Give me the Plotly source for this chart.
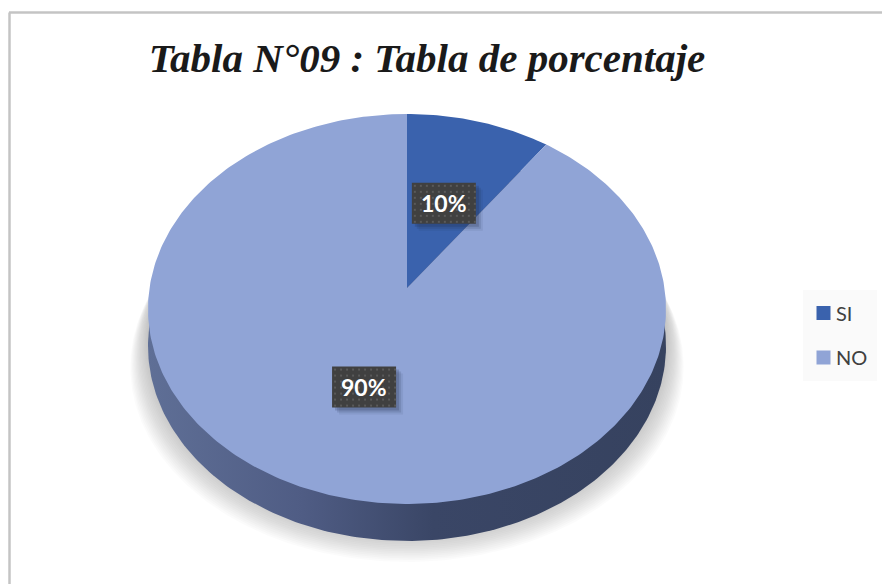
import numpy as np
import plotly.graph_objects as go

categories = ["SI", "NO"]
values = [10, 90]
colors = ["#3a62ad", "#90a4d6"]
title_text = "Tabla N°09 : Tabla de porcentaje"

W, H = 882, 584
CX, CY, A, B, K = 407, 288, 257.5, 192.7, 0.1077
DEPTH = 37


def project(u, v):
    w = 1 + K * np.asarray(v)
    return CX + A * np.asarray(u) / w, CY - B * np.asarray(v) / w


def rim(a0=0.0, a1=2 * np.pi, n=361):
    t = np.linspace(a0, a1, n)
    return project(np.sin(t), np.cos(t))


def poly(x, y, color, **kw):
    fig.add_trace(go.Scatter(x=x, y=y, mode="lines", fill="toself", line_width=0, fillcolor=color,
                             showlegend=False, hoverinfo="skip", **kw))


fig = go.Figure()

# soft shadow
for i in range(18):
    f = i / 17
    x, y = rim()
    poly(CX + (x - CX) * (1.068 - 0.07 * f), y + 58 - 30 * f, "rgba(120,120,120,0.032)")

# side wall
x, y = rim()
fig.add_trace(go.Scatter(x=x, y=y + DEPTH, mode="lines", fill="toself", line_width=0,
                         fillgradient=dict(type="horizontal",
                                           colorscale=[[0, "#5f6f96"], [0.3, "#4f5c84"], [0.55, "#3a4666"], [1, "#36425f"]]),
                         showlegend=False, hoverinfo="skip"))

# slices, clockwise from 12 o'clock
total = sum(values)
start = 0.0
labels = []
for name, val, col in zip(categories, values, colors):
    end = start + 2 * np.pi * val / total
    x, y = rim(start, end, max(3, int(val * 4)))
    poly(np.r_[CX, x, CX], np.r_[CY, y, CY], col)
    mid = (start + end) / 2
    lx, ly = project(0.5 * np.sin(mid), 0.5 * np.cos(mid))
    labels.append((float(lx) - 1, float(ly) + 2, f"{round(100 * val / total)}%"))
    start = end

# data labels: shadow, box, dot texture, text
for lx, ly, text in labels:
    x0, x1, y0, y1 = lx - 32, lx + 32, ly - 20, ly + 21
    for d, op in ((7, 0.08), (5, 0.14), (3, 0.2)):
        poly([x0 + d, x1 + d, x1 + d, x0 + d], [y0 + d, y0 + d, y1 + d, y1 + d], f"rgba(30,40,70,{op})")
    poly([x0, x1, x1, x0], [y0, y0, y1, y1], "#404040")
    gx, gy = np.meshgrid(np.arange(x0 + 3, x1, 6), np.arange(y0 + 3, y1, 6))
    fig.add_trace(go.Scatter(x=gx.ravel(), y=gy.ravel(), mode="markers", showlegend=False, hoverinfo="skip",
                             marker=dict(symbol="square", size=2, color="#5a5a5a", line_width=0)))
    fig.add_annotation(x=lx, y=ly, text=f"<b>{text}</b>", showarrow=False,
                       font=dict(family="Lato", size=23, color="white"))

# legend keys
for name, col in zip(categories, colors):
    fig.add_trace(go.Scatter(x=[None], y=[None], mode="markers", name=name, legendgroup=name,
                             marker=dict(symbol="square", size=14, color=col)))

fig.add_shape(type="rect", x0=803, x1=877, y0=290, y1=381, fillcolor="#fafafa", line_width=0, layer="below")
fig.add_shape(type="line", x0=9.5, x1=9.5, y0=12.5, y1=H, line=dict(color="#c4c4c4", width=2.5), layer="below")
fig.add_shape(type="line", x0=9, x1=W, y0=12.5, y1=12.5, line=dict(color="#c4c4c4", width=2.5), layer="below")

fig.update_layout(
    width=W, height=H, autosize=False, margin=dict(l=0, r=0, t=0, b=0),
    paper_bgcolor="white", plot_bgcolor="white",
    xaxis=dict(range=[0, W], visible=False, fixedrange=True),
    yaxis=dict(range=[H, 0], visible=False, fixedrange=True),
    title=dict(text=f"<b><i>{title_text}</i></b>", x=427 / W, xanchor="center", y=1 - 58 / H, yanchor="middle",
               font=dict(family="Liberation Serif", size=41, color="#1a1a1a")),
    legend=dict(x=796 / W, xanchor="left", y=1 - 335.5 / H, yanchor="middle", bgcolor="rgba(0,0,0,0)",
                font=dict(family="Lato", size=20, color="#404040"), itemclick=False, itemdoubleclick=False,
                tracegroupgap=15.5),
)
post = """
document.body.style.margin = '0';
var gd = document.getElementById('{plot_id}');
function nudge() {
  gd.querySelectorAll('.legend .legendpoints').forEach(function (g) {
    g.setAttribute('transform', 'translate(7.5,0)');
  });
}
gd.on('plotly_afterplot', nudge);
nudge();
setTimeout(nudge, 100);
"""
fig.write_html("out.html", post_script=post, config={"displayModeBar": False})
